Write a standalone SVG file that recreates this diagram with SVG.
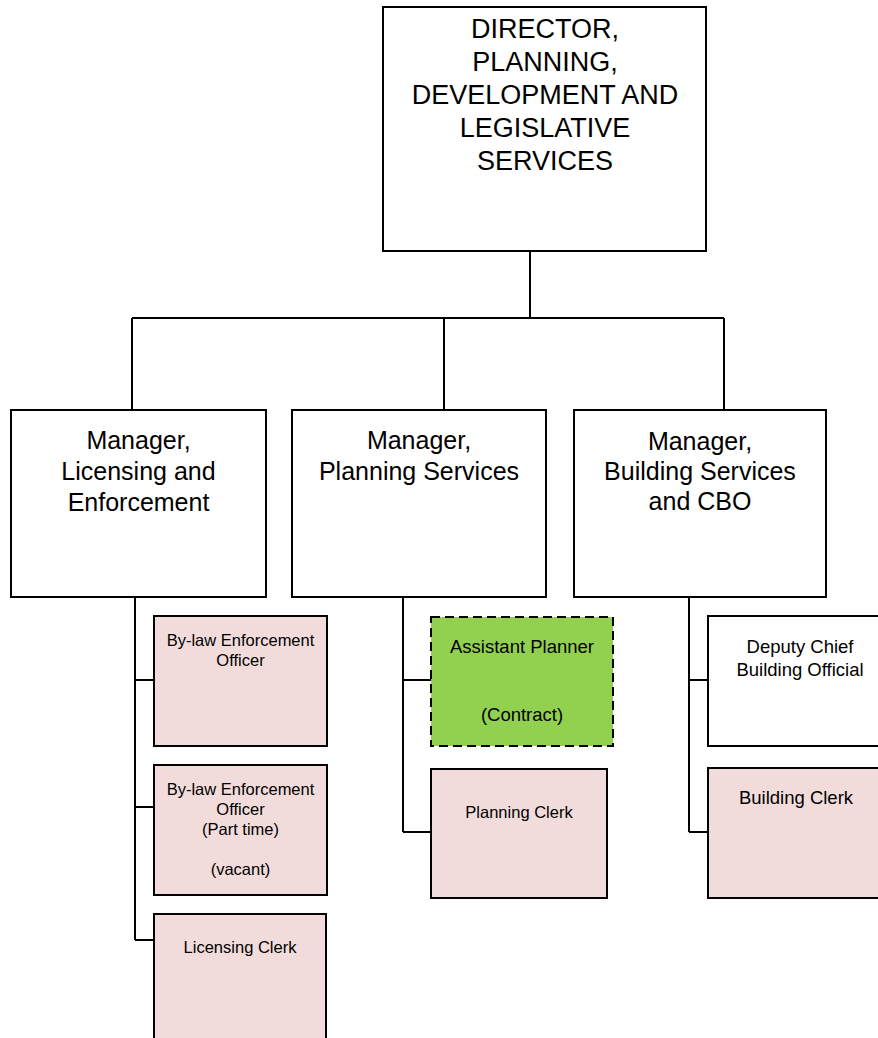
<svg xmlns="http://www.w3.org/2000/svg" width="878" height="1038" viewBox="0 0 878 1038">
  <style>
    .box { fill: #ffffff; stroke: #000000; stroke-width: 2; }
    .staff { fill: #f2dcdb; stroke: #000000; stroke-width: 2; }
    .contract { fill: #92d050; stroke: #000000; stroke-width: 2; stroke-dasharray: 9 5; }
    .wire { fill: none; stroke: #000000; stroke-width: 2; }
    text { font-family: "Liberation Sans", Arial, sans-serif; fill: #000000; text-anchor: middle; }
    .t-dir { font-size: 27px; }
    .t-mgr { font-size: 25px; }
    .t-sm { font-size: 16.5px; }
    .t-md { font-size: 18.5px; }
  </style>

  <!-- reporting lines -->
  <g id="connectors">
    <path class="wire" d="M530 251 V318 M132 318 H724 M132 318 V410 M444 318 V410 M724 318 V410"/>
    <path class="wire" d="M135 597 V940 M135 680 H154 M135 807 H154 M135 940 H154"/>
    <path class="wire" d="M403 597 V832 M403 680 H431 M403 832 H431"/>
    <path class="wire" d="M689 597 V832 M689 680 H708 M689 832 H708"/>
  </g>

  <g id="director">
    <rect class="box" x="383" y="7" width="323" height="244"/>
    <text class="t-dir" x="545" y="38">DIRECTOR,</text>
    <text class="t-dir" x="545" y="71">PLANNING,</text>
    <text class="t-dir" x="545" y="104">DEVELOPMENT AND</text>
    <text class="t-dir" x="545" y="137">LEGISLATIVE</text>
    <text class="t-dir" x="545" y="170">SERVICES</text>
  </g>

  <g id="mgr-licensing">
    <rect class="box" x="11" y="410" width="255" height="187"/>
    <text class="t-mgr" x="138.5" y="449">Manager,</text>
    <text class="t-mgr" x="138.5" y="480">Licensing and</text>
    <text class="t-mgr" x="138.5" y="511">Enforcement</text>
  </g>

  <g id="mgr-planning">
    <rect class="box" x="292" y="410" width="254" height="187"/>
    <text class="t-mgr" x="419" y="449">Manager,</text>
    <text class="t-mgr" x="419" y="480">Planning Services</text>
  </g>

  <g id="mgr-building">
    <rect class="box" x="574" y="410" width="252" height="187"/>
    <text class="t-mgr" x="700" y="450">Manager,</text>
    <text class="t-mgr" x="700" y="480">Building Services</text>
    <text class="t-mgr" x="700" y="510">and CBO</text>
  </g>

  <g id="bylaw-officer">
    <rect class="staff" x="154" y="616" width="173" height="130"/>
    <text class="t-sm" x="240.5" y="646">By-law Enforcement</text>
    <text class="t-sm" x="240.5" y="666">Officer</text>
  </g>

  <g id="bylaw-officer-pt">
    <rect class="staff" x="154" y="765" width="173" height="130"/>
    <text class="t-sm" x="240.5" y="795">By-law Enforcement</text>
    <text class="t-sm" x="240.5" y="815">Officer</text>
    <text class="t-sm" x="240.5" y="835">(Part time)</text>
    <text class="t-sm" x="240.5" y="875">(vacant)</text>
  </g>

  <g id="licensing-clerk">
    <rect class="staff" x="154" y="914" width="172" height="140"/>
    <text class="t-sm" x="240" y="953">Licensing Clerk</text>
  </g>

  <g id="assistant-planner">
    <rect class="contract" x="431" y="617" width="182" height="129"/>
    <text class="t-md" x="522" y="653">Assistant Planner</text>
    <text class="t-md" x="522" y="721">(Contract)</text>
  </g>

  <g id="planning-clerk">
    <rect class="staff" x="431" y="769" width="176" height="129"/>
    <text class="t-sm" x="519" y="818">Planning Clerk</text>
  </g>

  <g id="deputy-cbo">
    <rect class="box" x="708" y="616" width="184" height="130"/>
    <text class="t-md" x="800" y="653">Deputy Chief</text>
    <text class="t-md" x="800" y="676">Building Official</text>
  </g>

  <g id="building-clerk">
    <rect class="staff" x="708" y="768" width="184" height="130"/>
    <text class="t-md" x="796" y="804">Building Clerk</text>
  </g>
</svg>
